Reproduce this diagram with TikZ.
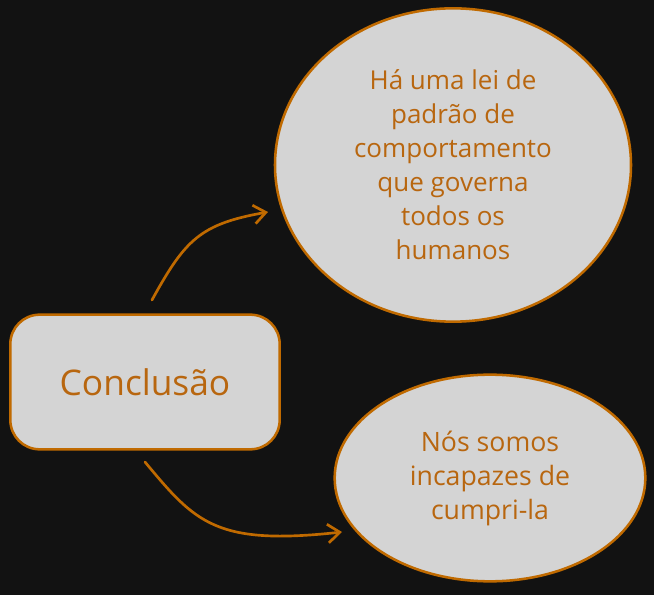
\documentclass[tikz,border=0pt]{standalone}
\usepackage{fontspec}
\setmainfont{Open Sans}
\usetikzlibrary{shapes.geometric,arrows.meta}
\definecolor{bg}{HTML}{121212}
\definecolor{boxfill}{HTML}{D4D4D4}
\definecolor{stroke}{HTML}{C06A00}
\definecolor{txt}{HTML}{B8660F}
\tikzset{
  shapebox/.style={draw=stroke, fill=boxfill, line width=1.9pt, text=txt, align=center, inner sep=0pt},
  conn/.style={draw=stroke, line width=2pt, line cap=round, -{Straight Barb[length=9pt,width=14pt,line width=2pt]}},
}
\begin{document}
\begin{tikzpicture}[x=0.75pt,y=-0.75pt]
\fill[bg] (0,0) rectangle (654,595);
\useasboundingbox (0,0) rectangle (654,595);
\node[shapebox, rectangle, rounded corners=22pt, minimum width=202pt, minimum height=101pt, font=\fontsize{26.5}{30}\selectfont] (c) at (145,382) {Conclusão};
\node[shapebox, ellipse, minimum width=267pt, minimum height=235pt, font=\fontsize{19.5}{25.5}\selectfont] (e1) at (453,165) {Há uma lei de\\padrão de\\comportamento\\que governa\\todos os\\humanos};
\node[shapebox, ellipse, minimum width=233pt, minimum height=155pt, font=\fontsize{20}{25.5}\selectfont] (e2) at (490,478) {Nós somos\\incapazes de\\cumpri-la};
\coordinate (a1s) at (152,300);
\coordinate (a1e) at (268,212);
\coordinate (a2s) at (145,462);
\coordinate (a2e) at (342,532);
\draw[conn] (a1s) .. controls (185,240) and (200,224) .. (a1e);
\draw[conn] (a2s) .. controls (195,522) and (215,546) .. (a2e);
\end{tikzpicture}
\end{document}
